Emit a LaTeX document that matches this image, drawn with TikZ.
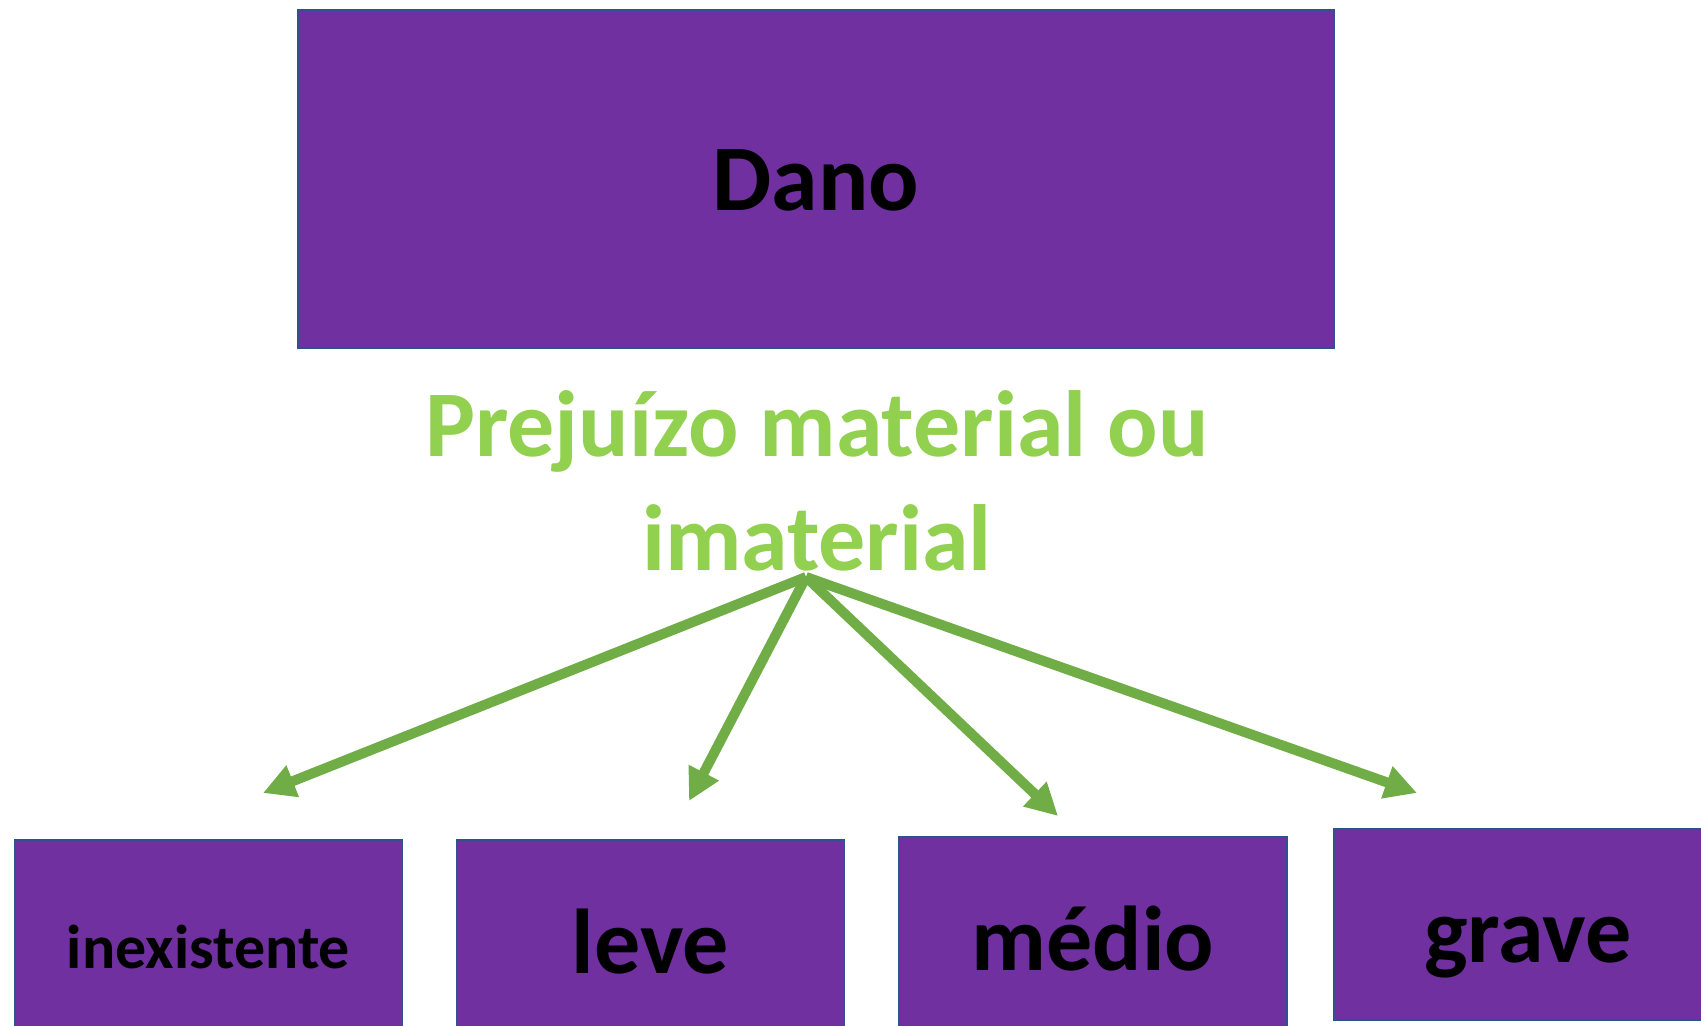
\documentclass[tikz,border=0pt]{standalone}
\usepackage{fontspec}
\setmainfont{Carlito}
\usepackage{xcolor}
\usetikzlibrary{arrows.meta, positioning}
\definecolor{damPurple}{RGB}{112,48,160}
\definecolor{damEdge}{RGB}{47,82,143}
\definecolor{damGreen}{RGB}{146,208,80}
\definecolor{damArrow}{RGB}{112,173,71}

\begin{document}
\begin{tikzpicture}[x=0.5pt, y=-0.5pt,
    topbox/.style={draw=damEdge, line width=0.75pt, fill=damPurple, minimum width=518pt, minimum height=169pt, inner sep=0pt, text height=32pt, text depth=0pt, font=\fontsize{47}{56}\selectfont\bfseries},
    levelbox/.style={draw=damEdge, line width=0.75pt, fill=damPurple, minimum width=194pt, minimum height=95.5pt, inner sep=0pt, text height=37.5pt, text depth=0pt, font=\fontsize{46}{55}\selectfont\bfseries},
    caption/.style={text=damGreen, align=center, inner sep=0pt, font=\fontsize{47}{57}\selectfont\bfseries},
    arrow/.style={-{Triangle[length=16pt, width=16pt]}, line width=5pt, draw=damArrow}
]
    \useasboundingbox (0,0) rectangle (1701,1026);
    \node[topbox] (dano) at (816,179) {Dano};
    \node[caption, anchor=base] (prejuizo) at (817,570) {Prejuízo material ou\\imaterial};

    \node[levelbox, text height=32.5pt, font=\fontsize{31}{37}\selectfont\bfseries] (inexistente) at (208.5,935.5) {inexistente};
    \node[levelbox] (leve) at (650.5,935.5) {leve};
    \node[levelbox] (medio) at (1093,932.5) {médio};
    \node[levelbox] (grave) at (1528,924.5) {grave};

    \coordinate (hub) at (806,577);
    \coordinate (toInex) at (263,793);
    \coordinate (toLeve) at (689,801);
    \coordinate (toMedio) at (1058,816);
    \coordinate (toGrave) at (1417,793);

    \draw[arrow] (hub) -- (toInex);
    \draw[arrow] (hub) -- (toLeve);
    \draw[arrow] (hub) -- (toMedio);
    \draw[arrow] (hub) -- (toGrave);
\end{tikzpicture}
\end{document}
